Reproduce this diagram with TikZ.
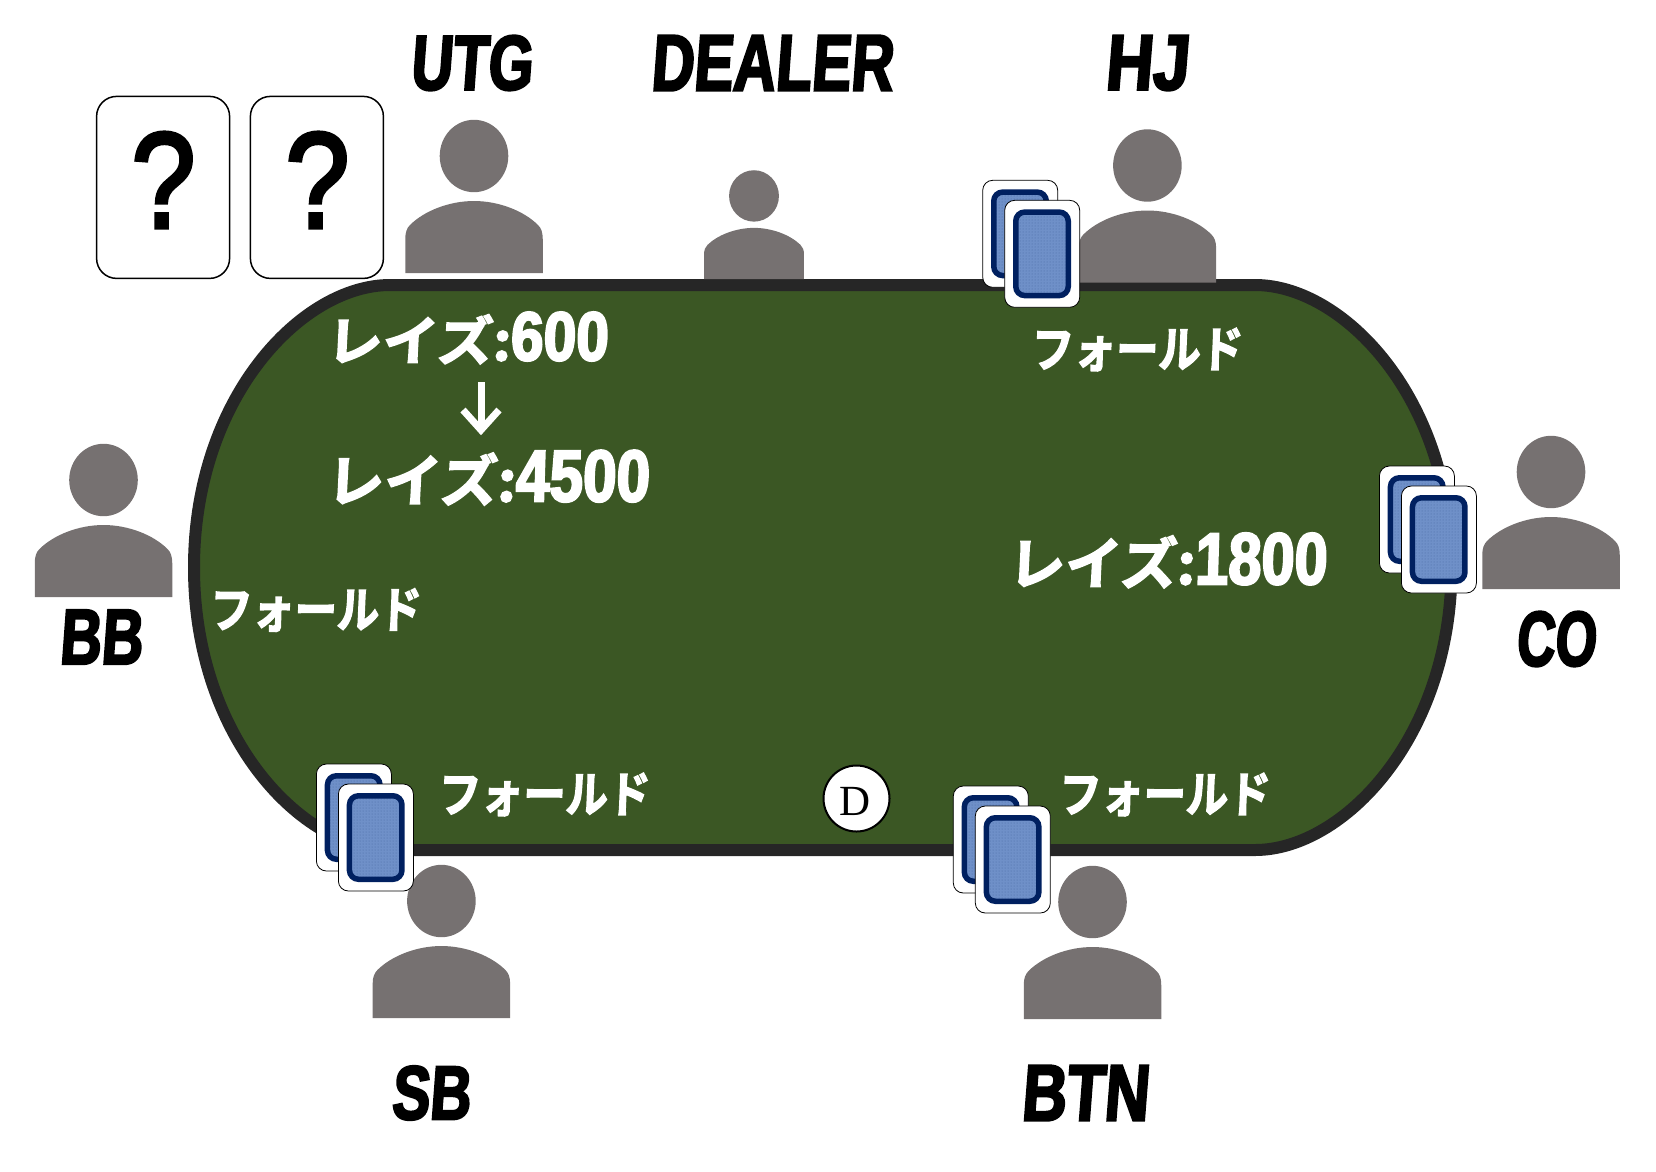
\documentclass[tikz,border=0pt]{standalone}
\usepackage{fontspec}
\usepackage{graphicx}
\usetikzlibrary{arrows.meta,patterns}
\setmainfont{Liberation Sans}
\newfontfamily\latf[FakeSlant=0.08,FakeBold=3,FakeStretch=0.8]{Liberation Sans Bold}
\newfontfamily\digf[FakeSlant=0.03,FakeBold=3,FakeStretch=0.8]{Liberation Sans Bold}
\newfontfamily\jpf[FakeBold=3,FakeSlant=0.05]{Noto Sans CJK JP Bold}
\newfontfamily\qf[FakeBold=3]{Liberation Sans}
\newfontfamily\df{Liberation Serif}
\definecolor{felt}{HTML}{3B5724}
\definecolor{rail}{HTML}{262626}
\definecolor{seat}{HTML}{767171}
\definecolor{navy}{HTML}{002060}
\definecolor{denim}{HTML}{6F90C8}
\definecolor{weave}{HTML}{4A6BA5}
\newcommand{\fitbox}[3]{\resizebox*{#1pt}{#2pt}{#3}}
\newcommand{\raisetxt}[1]{\kern-9pt{\jpf\fontsize{55}{55}\selectfont レイズ:}{\digf\fontsize{72}{72}\selectfont #1}}
\newcommand{\foldtxt}{\kern-5pt{\jpf\fontsize{50}{50}\selectfont フォールド}\kern-3pt}
\newcommand{\seattxt}[1]{\kern-3pt{\latf\fontsize{72}{72}\selectfont #1}}
\tikzset{
  every node/.style={inner sep=0pt,outer sep=0pt},
  tablepath/.style={fill=felt,draw=rail,line width=12pt},
  seatshape/.style={fill=seat,draw=none},
  bigcard/.style={draw=black,line width=1.5pt,fill=white,rounded corners=20pt,minimum width=133pt,minimum height=182pt,anchor=north west},
  smallcard/.style={draw=black,line width=0.8pt,fill=white,rounded corners=10pt,minimum width=75pt,minimum height=107pt,anchor=north west},
  cardback/.style={draw=navy,line width=5.5pt,preaction={fill=denim},pattern=dots,pattern color=weave,rounded corners=9pt,minimum width=52.5pt,minimum height=83.5pt},
  chip/.style={circle,draw=black,line width=2pt,fill=white,minimum size=66pt},
  seatlabel/.style={text=black},
  actlabel/.style={text=white},
}
\newcommand{\person}[4]{%
  \begin{scope}[shift={(#1,#2)},xscale=#3,yscale=#4]
    \fill[seatshape] (-68.75,0) -- (-68.75,-34)
      .. controls (-68.75,-41) and (-67,-45) .. (-64,-48)
      .. controls (-50,-62) and (-25,-72) .. (0,-72)
      .. controls (25,-72) and (50,-62) .. (64,-48)
      .. controls (67,-45) and (68.75,-41) .. (68.75,-34)
      -- (68.75,0) -- cycle;
    \fill[seatshape] (0,-117) ellipse [x radius=34.3pt,y radius=36.2pt];
  \end{scope}}
\newcommand{\cardpair}[3]{%
  \node[smallcard] (#1back) at (#2-22,#3-20) {};
  \node[cardback] at ([xshift=-0.2pt]#1back.center) {};
  \node[smallcard] (#1front) at (#2,#3) {};
  \node[cardback] at ([xshift=-0.2pt]#1front.center) {};}
\begin{document}
\begin{tikzpicture}[x=1pt,y=-1pt]
\useasboundingbox (0,0) rectangle (1656,1171);
% table
\path[tablepath] (390,285) -- (1255,285)
  .. controls (1343,285) and (1451.5,397.5) .. (1451.5,567.5)
  .. controls (1451.5,737.5) and (1343,850) .. (1255,850)
  -- (390,850)
  .. controls (302,850) and (194,737.5) .. (194,567.5)
  .. controls (194,397.5) and (302,285) .. (390,285) -- cycle;
% people
\person{474}{273}{1}{1}
\person{754}{279}{0.727}{0.71}
\person{1147.4}{282.5}{1}{1}
\person{1551}{589}{1}{1}
\person{103.5}{597}{1}{1}
\person{441.4}{1018}{1}{1}
\person{1092.5}{1019}{1}{1}
% question cards
\node[bigcard] (qa) at (96.6,96.4) {};
\node[bigcard] (qb) at (250.4,96.4) {};
\node at (163.5,180) (qat) {\fitbox{64}{95}{\qf\fontsize{130}{130}\selectfont ?}};
\node at (317.5,180) (qbt) {\fitbox{64}{95}{\qf\fontsize{130}{130}\selectfont ?}};
% face-down cards
\cardpair{hj}{1004.7}{200.3}
\cardpair{co}{1401.4}{486}
\cardpair{sb}{338.4}{784}
\cardpair{btn}{975.3}{806}
% dealer chip
\node[chip] (dchip) at (856.5,798.5) {};
\node (dtxt) at (855,801.5) {\df\fontsize{43}{43}\selectfont D};
% seat labels
\node[seatlabel] (utg) at (472.5,63) {\fitbox{119}{55}{\seattxt{UTG}}};
\node[seatlabel] (dealer) at (773,63) {\fitbox{239}{55}{\seattxt{DEALER}}};
\node[seatlabel] (hj) at (1148,63) {\fitbox{80}{55}{\seattxt{HJ}}};
\node[seatlabel] (bb) at (102,637) {\fitbox{80}{54}{\seattxt{BB}}};
\node[seatlabel] (co) at (1557,639) {\fitbox{77}{55}{\seattxt{CO}}};
\node[seatlabel] (sb) at (432,1093) {\fitbox{76}{54}{\seattxt{SB}}};
\node[seatlabel] (btn) at (1086,1093) {\fitbox{124}{55}{\seattxt{BTN}}};
% action labels
\node[actlabel] (r600) at (471.7,338) {\fitbox{273}{52}{\raisetxt{600}}};
\node[actlabel] (r4500) at (492.4,477.7) {\fitbox{314}{55}{\raisetxt{4500}}};
\node[actlabel] (r1800) at (1172,560.5) {\fitbox{310}{55}{\raisetxt{1800}}};
\node[actlabel] (fhj) at (1137.5,349.5) {\fitbox{205}{43}{\foldtxt}};
\node[actlabel] (fbb) at (316,610) {\fitbox{205}{43}{\foldtxt}};
\node[actlabel] (fsb) at (544.7,794.5) {\fitbox{205}{43}{\foldtxt}};
\node[actlabel] (fbtn) at (1165,794.5) {\fitbox{205}{43}{\foldtxt}};
% raise arrow
\draw[white,line width=7pt,-{Straight Barb[length=20pt,width=36pt]}] ([xshift=9.3pt,yshift=-18pt]r600.south) -- ([xshift=-11.4pt,yshift=15pt]r4500.north);
\end{tikzpicture}
\end{document}
